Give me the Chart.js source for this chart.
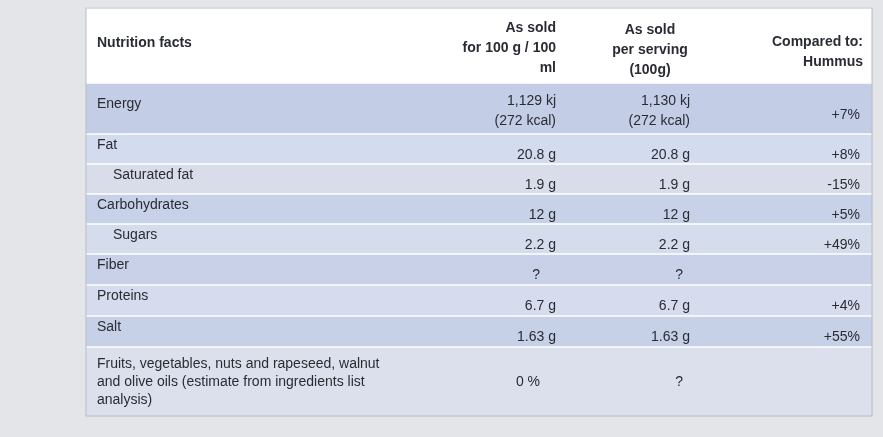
<!DOCTYPE html>
<html><head><meta charset="utf-8">
<script src="https://cdn.jsdelivr.net/npm/chart.js@4/dist/chart.umd.min.js"></script>
<style>html,body{margin:0;padding:0;background:#e4e5e8}#wrap{width:883px;height:437px}</style>
</head><body><div id="wrap"><canvas id="c"></canvas></div>
<script>
// table data
var headers = [["Nutrition facts"], ["As sold", "for 100 g / 100", "ml"], ["As sold", "per serving", "(100g)"], ["Compared to:", "Hummus"]];
var nutrients = [["Energy"], ["Fat"], ["Saturated fat"], ["Carbohydrates"], ["Sugars"], ["Fiber"], ["Proteins"], ["Salt"],
  ["Fruits, vegetables, nuts and rapeseed, walnut", "and olive oils (estimate from ingredients list", "analysis)"]];
var per100 = [["1,129 kj", "(272 kcal)"], ["20.8 g"], ["1.9 g"], ["12 g"], ["2.2 g"], ["?"], ["6.7 g"], ["1.63 g"], ["0 %"]];
var perServing = [["1,130 kj", "(272 kcal)"], ["20.8 g"], ["1.9 g"], ["12 g"], ["2.2 g"], ["?"], ["6.7 g"], ["1.63 g"], ["?"]];
var compared = ["+7%", "+8%", "-15%", "+5%", "+49%", "", "+4%", "+55%", ""];
var indented = [false, false, true, false, true, false, false, false, false];

// layout in table units (scale domain)
var rowEdges = [8, 83, 134, 164, 194, 224, 254, 285, 316, 347, 416];
var colEdges = [86, 430, 570, 705, 872];
var rowFill = ["#ffffff", "#c3cde6", "#d3dbee", "#d8dde9", "#c7d1e8", "#d5dcec", "#c8d1e7", "#d6dced", "#c6d0e7", "#dbe0ec"];

var tablePlugin = {
  id: "table",
  afterDatasetsDraw: function (chart) {
    var ctx = chart.ctx, sx = chart.scales.x, sy = chart.scales.y;
    var X = function (v) { return sx.getPixelForValue(v); };
    var Y = function (v) { return sy.getPixelForValue(v); };
    ctx.save();
    for (var r = 0; r < rowEdges.length - 1; r++) {
      ctx.fillStyle = rowFill[r];
      ctx.fillRect(X(colEdges[0]), Y(rowEdges[r]), X(colEdges[4]) - X(colEdges[0]), Y(rowEdges[r + 1]) - Y(rowEdges[r]));
      ctx.strokeStyle = "#ffffff"; ctx.lineWidth = 1.5;
      ctx.beginPath(); ctx.moveTo(X(colEdges[0]), Y(rowEdges[r])); ctx.lineTo(X(colEdges[4]), Y(rowEdges[r])); ctx.stroke();
    }
    ctx.strokeStyle = "#b8bcc6"; ctx.lineWidth = 1;
    ctx.strokeRect(X(colEdges[0]), Y(rowEdges[0]), X(colEdges[4]) - X(colEdges[0]), Y(rowEdges[10]) - Y(rowEdges[0]));
    ctx.fillStyle = "#2a2c33";
    ctx.textBaseline = "middle";
    function lines(arr, x, yTop, align, lh) {
      ctx.textAlign = align;
      for (var i = 0; i < arr.length; i++) ctx.fillText(arr[i], X(x), Y(yTop) + i * lh);
    }
    // header
    ctx.font = "bold 14px 'Liberation Sans', Arial, sans-serif";
    lines(headers[0], 97, 43, "left", 20);
    lines(headers[1], 556, 28, "right", 20);
    lines(headers[2], 650, 30, "center", 20);
    lines(headers[3], 863, 42, "right", 20);
    ctx.font = "14px 'Liberation Sans', Arial, sans-serif";
    for (var k = 0; k < nutrients.length; k++) {
      var top = rowEdges[k + 1];
      var nameY = k === 0 ? top + 21 : (k === 8 ? top + 17 : top + 11);
      lines(nutrients[k], indented[k] ? 113 : 97, nameY, "left", 18);
      var vy = k === 0 ? top + 18 : (k === 8 ? top + 35 : top + 21);
      if (per100[k].length > 1) lines(per100[k], 556, vy, "right", 20); else lines(per100[k], per100[k][0].length < 4 ? 540 : 556, vy, "right", 20);
      if (perServing[k].length > 1) lines(perServing[k], 690, vy, "right", 20); else lines(perServing[k], perServing[k][0] === "?" ? 683 : 690, vy, "right", 20);
      ctx.fillStyle = "#2a2c33";
      lines([compared[k]], 860, k === 0 ? top + 32 : top + 21, "right", 20);
    }
    ctx.restore();
  }
};

new Chart(document.getElementById("c"), {
  type: "scatter",
  data: { datasets: [{ data: [], pointRadius: 0 }] },
  options: {
    responsive: true,
    maintainAspectRatio: false,
    animation: false,
    layout: { padding: 0 },
    plugins: { legend: { display: false }, tooltip: { enabled: false } },
    scales: {
      x: { type: "linear", min: 0, max: 883, display: false },
      y: { type: "linear", min: 0, max: 437, reverse: true, display: false }
    }
  },
  plugins: [tablePlugin]
});
</script>
</body></html>
